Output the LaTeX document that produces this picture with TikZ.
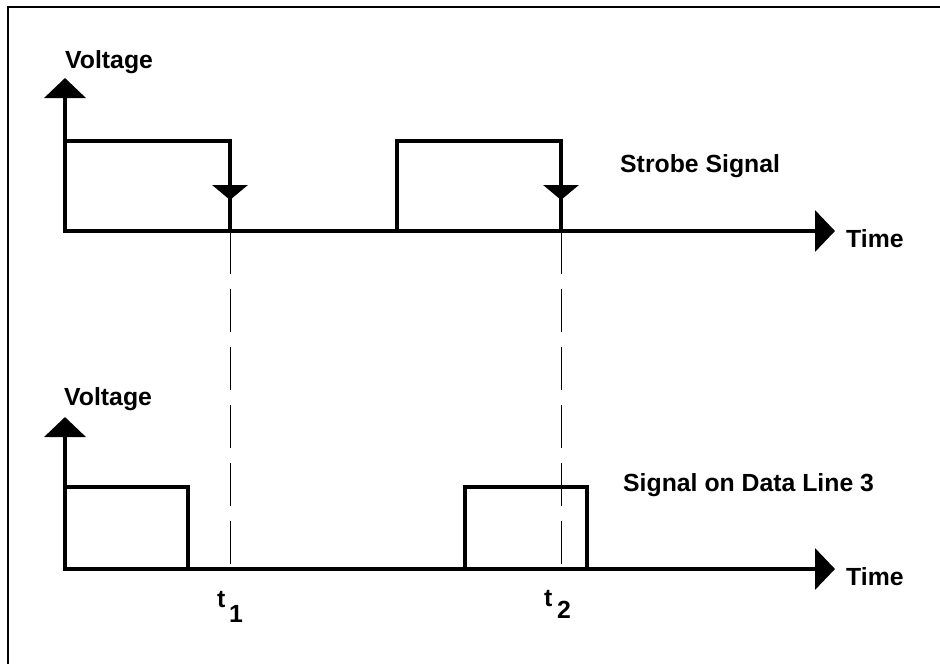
\documentclass[tikz,border=0pt]{standalone}
\usepackage{fontspec}
\setmainfont{Liberation Sans}
\usetikzlibrary{arrows.meta}
\begin{document}
\begin{tikzpicture}[x=1pt,y=-1pt,
  sig/.style={line width=4pt,line cap=rect,line join=miter},
  axisarrow/.style={line width=4pt,line cap=rect,-{Triangle[length=20pt,width=41pt]}},
  edgearrow/.style={line width=4pt,-{Triangle[length=15pt,width=35pt]}},
  guide/.style={line width=1pt,dash pattern=on 43pt off 15pt},
  lbl/.style={inner sep=0pt,anchor=base west,font=\fontsize{24.8}{29}\selectfont\bfseries}]
\useasboundingbox (0,0) rectangle (940,664);
% frame (top and left edges)
\draw[line width=2pt] (8,664) -- (8,7) -- (940,7);
% ---------- top plot ----------
\coordinate (o1) at (65,231);
\coordinate (y1) at (65,78);
\coordinate (x1) at (835,231);
\draw[guide] (230,231) -- (230,569);
\draw[guide] (561,231) -- (561,569);
\draw[axisarrow] (o1) -- (y1);
\draw[axisarrow] (o1) -- (x1);
\draw[sig] (65,141) -- (230,141) -- (230,231);
\draw[sig] (397,231) -- (397,141) -- (561,141) -- (561,231);
\draw[edgearrow] (230,180) -- (230,200);
\draw[edgearrow] (561,180) -- (561,200);
\node[lbl] (v1) at (65,68) {Voltage};
\node[lbl] (s1) at (620,172) {Strobe Signal};
\node[lbl] (tm1) at (846,247) {Time};
% ---------- bottom plot ----------
\coordinate (o2) at (65,569);
\coordinate (y2) at (65,417);
\coordinate (x2) at (835,569);
\draw[axisarrow] (o2) -- (y2);
\draw[axisarrow] (o2) -- (x2);
\draw[sig] (65,487) -- (188,487) -- (188,569);
\draw[sig] (465,569) -- (465,487) -- (587,487) -- (587,569);
\node[lbl] (v2) at (64,405) {Voltage};
\node[lbl] (s2) at (623,491) {Signal on Data Line 3};
\node[lbl] (tm2) at (846,585) {Time};
% time labels
\node[lbl] (ta) at (217,607) {t};
\node[lbl] (tas) at (229,622) {1};
\node[lbl] (tb) at (544,606) {t};
\node[lbl] (tbs) at (557,618) {2};
\end{tikzpicture}
\end{document}
